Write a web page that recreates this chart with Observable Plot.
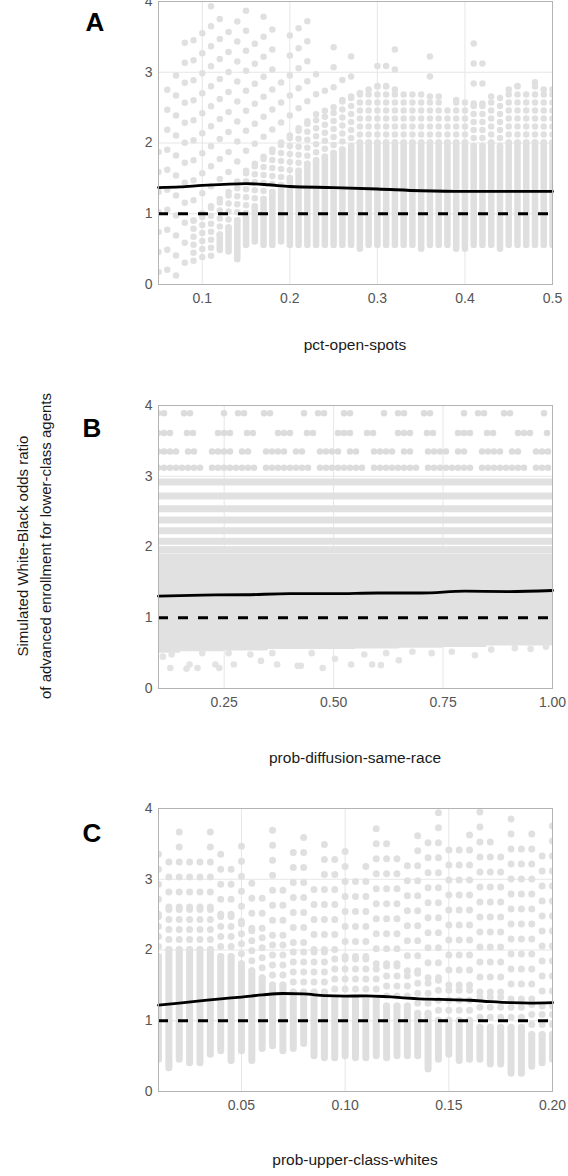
<!DOCTYPE html>
<html><head><meta charset="utf-8">
<script src="https://cdn.jsdelivr.net/npm/d3@7"></script>
<script src="https://cdn.jsdelivr.net/npm/@observablehq/plot@0.6"></script>
<style>
body{margin:0;background:#fff;font-family:"Liberation Sans",Arial,sans-serif;}
#wrap{position:relative;width:568px;height:1176px;overflow:hidden;background:#fff;}
.panel{position:absolute;left:0;}
.panel svg text{font-size:14px;fill:#555;}
.letter{position:absolute;font-weight:bold;font-size:26px;line-height:1;color:#000;transform:translate(-50%,-50%);}
.xt{position:absolute;font-size:15.5px;color:#1a1a1a;transform:translate(-50%,-50%);white-space:nowrap;}
.yt{position:absolute;left:34px;top:546px;transform:translate(-50%,-50%) rotate(-90deg);font-size:15px;line-height:23px;text-align:center;white-space:nowrap;color:#1a1a1a;}
</style></head>
<body>
<div id="wrap">
  <div class="panel" id="pA" style="top:-9px"></div>
  <div class="panel" id="pB" style="top:395px"></div>
  <div class="panel" id="pC" style="top:798px"></div>
  <div class="letter" style="left:95px;top:22px">A</div>
  <div class="letter" style="left:92px;top:428px">B</div>
  <div class="letter" style="left:92px;top:833px">C</div>
  <div class="xt" style="left:355px;top:345px">pct-open-spots</div>
  <div class="xt" style="left:355px;top:758px">prob-diffusion-same-race</div>
  <div class="xt" style="left:355px;top:1160px">prob-upper-class-whites</div>
  <div class="yt">Simulated White-Black odds ratio<br>of advanced enrollment for lower-class agents</div>
</div>
<script>
// ---------- Panel A: pct-open-spots ----------
const aX   = [0.05,0.06,0.07,0.08,0.09,0.10,0.11,0.12,0.13,0.14,0.15,0.16,0.17,0.18,0.19,0.20,0.21,0.22,0.23,0.24,0.25,0.26,0.27,0.28,0.29,0.30,0.31,0.32,0.33,0.34,0.35,0.36,0.37,0.38,0.39,0.40,0.41,0.42,0.43,0.44,0.45,0.46,0.47,0.48,0.49,0.50];
const aLo  = [0.17,0.20,0.12,0.30,0.33,0.38,0.40,0.48,0.46,0.35,0.55,0.60,0.55,0.55,0.60,0.55,0.55,0.55,0.55,0.55,0.55,0.55,0.55,0.50,0.55,0.55,0.55,0.55,0.55,0.55,0.50,0.55,0.55,0.55,0.50,0.50,0.55,0.55,0.55,0.50,0.55,0.55,0.55,0.55,0.55,0.55];
const aMid = [0.17,0.20,0.12,0.30,0.33,0.38,0.40,0.70,0.80,0.90,1.00,1.10,1.20,1.30,1.40,1.50,1.60,1.70,1.75,1.80,1.85,1.90,1.95,2.00,2.00,2.00,2.00,2.00,2.00,2.00,2.00,2.00,2.00,2.00,2.00,2.00,1.95,1.95,2.00,1.95,2.00,2.00,2.00,2.00,2.00,2.00];
const aUp  = [0.17,0.20,0.12,0.30,0.90,1.00,1.10,1.20,1.30,1.45,1.60,1.70,1.80,1.90,2.00,2.10,2.20,2.30,2.40,2.45,2.50,2.60,2.65,2.70,2.75,2.80,2.80,2.75,2.75,2.75,2.70,2.65,2.65,2.55,2.60,2.60,2.55,2.55,2.65,2.65,2.75,2.80,2.70,2.85,2.75,2.75];
const aTop = [2.10,2.80,3.20,3.47,3.67,3.82,3.95,3.95,3.68,3.80,3.95,3.60,3.80,3.75,3.10,3.55,3.85,3.85,3.10,3.00,3.35,3.00,3.45,2.95,2.90,3.20,3.15,3.50,2.75,2.75,2.70,3.40,2.70,2.55,2.85,2.60,3.50,3.25,2.80,2.65,2.90,2.95,2.70,3.00,2.90,2.85];
const aFitX = [0.05,0.075,0.10,0.125,0.15,0.175,0.20,0.25,0.30,0.35,0.40,0.45,0.50];
const aFitY = [1.37,1.38,1.40,1.415,1.425,1.41,1.385,1.37,1.35,1.325,1.315,1.315,1.315];
const aTicks = [0.1,0.2,0.3,0.4,0.5];

// ---------- Panel B: prob-diffusion-same-race ----------
const bFullBands = [1.96,2.08,2.23,2.38,2.54,2.72,2.92];
const bPartBands = [3.12,3.35,3.61,3.89];
const bEdgeX  = [0.10,0.20,0.30,0.40,0.50,0.60,0.70,0.80,0.90,1.00];
const bEdgeLo = [0.50,0.52,0.53,0.55,0.55,0.56,0.57,0.58,0.60,0.60];
const bEdgeHi = [1.90,1.90,1.90,1.90,1.90,1.90,1.90,1.90,1.90,1.90];
const bLowX = [0.11,0.127,0.13,0.164,0.171,0.189,0.20,0.23,0.239,0.26,0.272,0.31,0.334,0.36,0.371,0.418,0.425,0.45,0.475,0.503,0.54,0.57,0.588,0.608,0.62,0.649,0.68,0.724,0.77,0.823,0.86,0.914,0.95,0.985];
const bLowY = [0.45,0.29,0.48,0.28,0.34,0.29,0.50,0.34,0.29,0.50,0.34,0.48,0.39,0.50,0.34,0.32,0.32,0.50,0.29,0.42,0.34,0.48,0.34,0.33,0.50,0.40,0.52,0.50,0.52,0.47,0.55,0.57,0.56,0.59];
const bFitX = [0.1,0.2,0.3,0.4,0.5,0.6,0.7,0.8,0.9,1.0];
const bFitY = [1.305,1.32,1.325,1.34,1.34,1.35,1.35,1.375,1.37,1.385];
const bTicks = [0.25,0.50,0.75,1.00];

// ---------- Panel C: prob-upper-class-whites ----------
const cX   = [0.010,0.015,0.020,0.025,0.030,0.035,0.040,0.045,0.050,0.055,0.060,0.065,0.070,0.075,0.080,0.085,0.090,0.095,0.100,0.105,0.110,0.115,0.120,0.125,0.130,0.135,0.140,0.145,0.150,0.155,0.160,0.165,0.170,0.175,0.180,0.185,0.190,0.195,0.200];
const cLo  = [0.45,0.33,0.45,0.40,0.40,0.52,0.57,0.43,0.57,0.43,0.60,0.64,0.57,0.60,0.67,0.50,0.47,0.47,0.50,0.47,0.47,0.50,0.47,0.50,0.50,0.50,0.31,0.45,0.52,0.43,0.45,0.45,0.38,0.38,0.25,0.25,0.35,0.40,0.45];
const cMid = [1.90,2.00,2.00,2.00,2.00,2.00,1.90,1.90,1.80,1.70,1.60,1.50,1.50,1.40,1.40,1.40,1.40,1.30,1.30,1.30,1.30,1.30,1.20,1.20,1.20,1.10,1.10,1.00,1.00,1.00,1.00,0.90,0.90,0.90,0.90,0.90,0.80,0.80,0.80];
const cUp  = [2.50,2.60,2.60,2.60,2.60,2.60,2.50,2.50,2.40,2.30,2.30,2.20,2.20,2.10,2.10,2.00,2.00,2.00,1.90,1.90,1.90,1.80,1.80,1.80,1.70,1.70,1.60,1.60,1.50,1.50,1.50,1.40,1.40,1.40,1.30,1.30,1.30,1.20,1.20];
const cTop = [3.40,3.25,3.80,3.30,3.33,3.75,3.36,3.23,3.60,2.98,2.85,3.78,3.02,3.48,3.60,2.90,3.60,3.42,3.55,3.17,3.20,3.82,3.62,3.40,3.22,3.80,3.58,3.95,3.56,3.45,3.67,3.95,3.67,3.36,3.97,3.62,3.65,3.50,3.85];
const cFitX = [0.01,0.02,0.03,0.04,0.05,0.06,0.07,0.08,0.09,0.10,0.11,0.12,0.13,0.14,0.15,0.16,0.17,0.18,0.19,0.20];
const cFitY = [1.22,1.25,1.28,1.31,1.335,1.365,1.385,1.38,1.355,1.348,1.352,1.34,1.32,1.305,1.30,1.29,1.27,1.255,1.25,1.255];
const cTicks = [0.05,0.10,0.15,0.20];

const yTicks = [0,1,2,3,4];

// ---------- helpers ----------
const DOT = "#e0e0e0";
function zip(keys, arrays) {
  return arrays[0].map((_, i) => Object.fromEntries(keys.map((k, j) => [k, arrays[j][i]])));
}
function columnMarks(rows, dotW, tightGap, looseGap) {
  return [
    Plot.ruleX(rows.filter(d => d.mid > d.lo), {x: "x", y1: "lo", y2: "mid", stroke: "#dfdfdf", strokeWidth: dotW, strokeLinecap: "round", clip: true}),
    Plot.ruleX(rows.filter(d => d.up > d.mid), {x: "x", y1: "mid", y2: "up", stroke: DOT, strokeWidth: dotW, strokeLinecap: "round", strokeDasharray: `0,${tightGap}`, clip: true}),
    Plot.ruleX(rows.filter(d => d.top > d.up), {x: "x", y1: "up", y2: "top", stroke: DOT, strokeWidth: dotW, strokeLinecap: "round", strokeDasharray: `0,${looseGap}`, clip: true})
  ];
}
function gridMarks(xt) {
  return [
    Plot.ruleX(xt, {stroke: "#e6e6e6", strokeWidth: 1}),
    Plot.ruleY(yTicks, {stroke: "#e6e6e6", strokeWidth: 1})
  ];
}
function fitMarks(fx, fy) {
  return [
    Plot.ruleY([1], {stroke: "#000", strokeWidth: 2.8, strokeDasharray: "10,10"}),
    Plot.line(zip(["x","y"], [fx, fy]), {x: "x", y: "y", stroke: "#000", strokeWidth: 2.8, curve: "monotone-x"})
  ];
}
function panel(domain, ticks, fmt, marks) {
  return Plot.plot({
    width: 568, height: 323,
    marginTop: 10, marginBottom: 30, marginLeft: 158, marginRight: 16,
    style: {fontFamily: "'Liberation Sans', Arial, sans-serif", fontSize: "14px", color: "#555", background: "transparent", overflow: "visible"},
    x: {domain, ticks, tickFormat: fmt, tickSize: 0, tickPadding: 9, label: null},
    y: {domain: [0, 4], ticks: yTicks, tickFormat: d3.format("d"), tickSize: 0, tickPadding: 6, label: null},
    marks: [
      ...marks,
      Plot.frame({stroke: "#b3b3b3", strokeWidth: 1})
    ]
  });
}

// ---------- A ----------
const aRows = zip(["x","lo","mid","up","top"], [aX, aLo, aMid, aUp, aTop]);
document.getElementById("pA").append(panel([0.05, 0.5], aTicks, d3.format(".1f"), [
  ...gridMarks(aTicks),
  ...columnMarks(aRows, 6.5, 8, 20),
  ...fitMarks(aFitX, aFitY)
]));

// ---------- B ----------
const bEdge = zip(["x","lo","hi"], [bEdgeX, bEdgeLo, bEdgeHi]);
const bLow = zip(["x","y"], [bLowX, bLowY]);
const partDash = ["0,6,0,6,0,6,0,6,0,6,0,6,0,6,0,12", "0,6,0,6,0,6,0,12,0,6,0,18", "0,6,0,6,0,17,0,6,0,25", "0,6,0,20,0,6,0,34,0,14"];
document.getElementById("pB").append(panel([0.1, 1.0], bTicks, d3.format(".2f"), [
  ...gridMarks(bTicks),
  Plot.areaY(bEdge, {x: "x", y1: "lo", y2: "hi", fill: "#e1e1e1", curve: "step"}),
  Plot.ruleY(bFullBands, {y: d => d, x1: () => 0.1, x2: () => 1.0, stroke: "#e1e1e1", strokeWidth: 7}),
  ...bPartBands.map((lv, i) => Plot.ruleY([lv], {y: d => d, x1: () => 0.1, x2: () => 1.0, stroke: "#dcdcdc", strokeWidth: 6.5, strokeLinecap: "round", strokeDasharray: partDash[i], clip: true})),
  Plot.dot(bLow, {x: "x", y: "y", r: 3.3, fill: "#e3e3e3", clip: true}),
  ...fitMarks(bFitX, bFitY)
]));

// ---------- C ----------
const cRows = zip(["x","lo","mid","up","top"], [cX, cLo, cMid, cUp, cTop]);
document.getElementById("pC").append(panel([0.01, 0.2], cTicks, d3.format(".2f"), [
  ...gridMarks(cTicks),
  ...columnMarks(cRows, 7, 10, 15),
  ...fitMarks(cFitX, cFitY)
]));
</script>
</body></html>
